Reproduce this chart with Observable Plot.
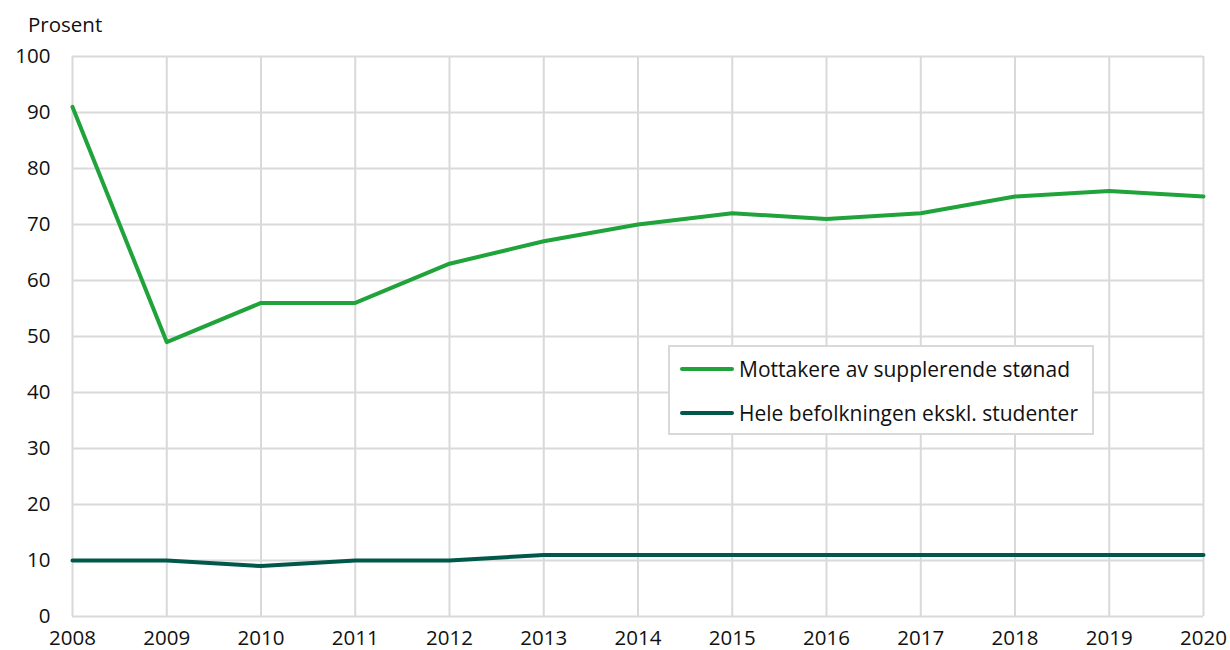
<!DOCTYPE html>
<html>
<head>
<meta charset="utf-8">
<script src="https://cdn.jsdelivr.net/npm/d3@7"></script>
<script src="https://cdn.jsdelivr.net/npm/@observablehq/plot@0.6"></script>
<style>
  body { margin: 0; background: #fff; font-family: "Open Sans", sans-serif; }
  #wrap { position: relative; width: 1230px; height: 650px; }
  #ylabel { position: absolute; left: 28px; top: 10px; font-size: 20.5px; color: #111; line-height: 28px; }
  #chart { position: absolute; left: 0; top: 40px; }
  #legend { position: absolute; left: 668px; top: 345px; width: 422px; height: 86px;
            border: 2px solid #d9d9d9; background: #fff; box-sizing: content-box; }
  .item { position: absolute; left: 10px; display: flex; align-items: center; font-size: 21px; color: #111; line-height: 28px; }
  .sw { width: 54px; height: 4px; border-radius: 2px; margin-right: 5px; }
</style>
</head>
<body>
<div id="wrap">
  <div id="ylabel">Prosent</div>
  <div id="chart"></div>
  <div id="legend"></div>
</div>
<script>
const years = [2008, 2009, 2010, 2011, 2012, 2013, 2014, 2015, 2016, 2017, 2018, 2019, 2020];
const supplerende = [91, 49, 56, 56, 63, 67, 70, 72, 71, 72, 75, 76, 75];
const befolkningen = [10, 10, 9, 10, 10, 11, 11, 11, 11, 11, 11, 11, 11];
const seriesNames = ["Mottakere av supplerende stønad", "Hele befolkningen ekskl. studenter"];
const seriesColors = ["#1fa33a", "#00584a"];
const yTicks = [0, 10, 20, 30, 40, 50, 60, 70, 80, 90, 100];

const data = [];
years.forEach((y, i) => {
  data.push({year: y, value: supplerende[i], series: seriesNames[0]});
  data.push({year: y, value: befolkningen[i], series: seriesNames[1]});
});

const plot = Plot.plot({
  width: 1230,
  height: 610,
  marginTop: 16,
  marginBottom: 34,
  marginLeft: 72,
  marginRight: 27,
  style: {fontFamily: "Open Sans, sans-serif", fontSize: "20px", color: "#111", background: "#fff"},
  x: {domain: [2008, 2020], ticks: years, tickFormat: d => String(d), tickSize: 0, tickPadding: 14, label: null},
  y: {domain: [0, 100], ticks: yTicks, tickSize: 0, tickPadding: 22, label: null},
  color: {domain: seriesNames, range: seriesColors},
  marks: [
    Plot.gridY(yTicks, {stroke: "#d9d9d9", strokeOpacity: 1, strokeWidth: 2}),
    Plot.gridX(years, {stroke: "#d9d9d9", strokeOpacity: 1, strokeWidth: 2}),
    Plot.axisX({ticks: years, tickFormat: d => String(d), tickSize: 0, tickPadding: 14, fontSize: 20.5}),
    Plot.axisY({ticks: yTicks, tickSize: 0, tickPadding: 22, fontSize: 20.5}),
    Plot.line(data, {x: "year", y: "value", z: "series", stroke: "series", strokeWidth: 4, strokeLinejoin: "round", strokeLinecap: "round"})
  ]
});
document.getElementById("chart").appendChild(plot);

const legend = document.getElementById("legend");
seriesNames.forEach((name, i) => {
  const it = document.createElement("div");
  it.className = "item";
  it.style.top = (i === 0 ? 8 : 52) + "px";
  it.innerHTML = `<div class="sw" style="background:${seriesColors[i]}"></div><span>${name}</span>`;
  legend.appendChild(it);
});
</script>
</body>
</html>
